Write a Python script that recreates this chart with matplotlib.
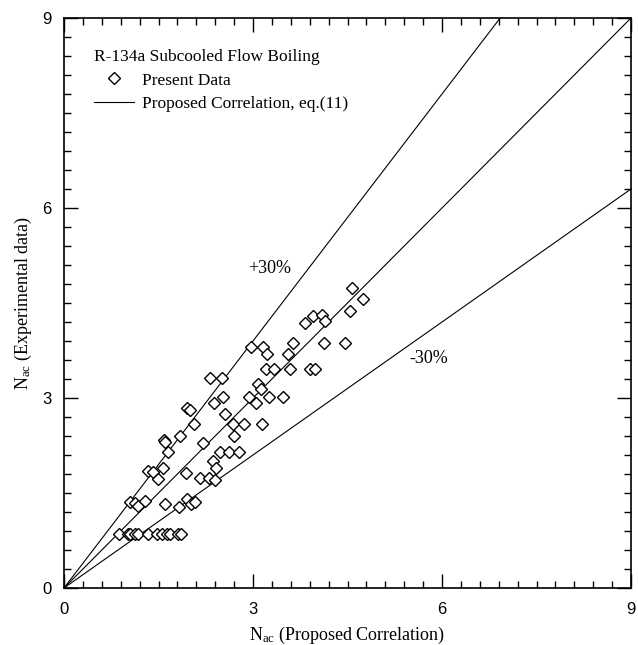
import numpy as np
import matplotlib
matplotlib.use('Agg')
import matplotlib.pyplot as plt
from matplotlib.ticker import MultipleLocator

plt.rcParams['font.family'] = ['Liberation Serif', 'DejaVu Serif']
plt.rcParams['mathtext.fontset'] = 'custom'
plt.rcParams['mathtext.rm'] = 'Liberation Serif'
plt.rcParams['mathtext.it'] = 'Liberation Serif:italic'

# N_ac predicted (x) vs experimental (y)
x_pred = [0.88, 1.01, 1.05, 1.12, 1.17, 1.34, 1.47, 1.55, 1.63, 1.69, 1.81, 1.85,
          1.04, 1.12, 1.18, 1.29, 1.61, 1.82, 1.96, 2.01, 2.08,
          1.34, 1.42, 1.49, 1.57, 1.65, 1.93, 2.16, 2.30, 2.40, 2.36, 2.41,
          2.48, 2.62, 2.78, 2.20, 1.58, 1.61, 1.84, 1.95, 2.00, 2.06,
          2.38, 2.52, 2.56, 2.68, 2.86, 2.70, 2.94, 3.15, 3.04, 3.08, 3.12,
          3.26, 3.48, 2.32, 2.51, 2.97, 3.16, 3.23, 3.21, 3.34, 3.55, 3.64,
          3.59, 3.82, 3.95, 4.09, 4.15, 3.91, 3.99, 4.12, 4.46, 4.54, 4.57, 4.74]
y_exp = [0.85, 0.85, 0.85, 0.85, 0.85, 0.85, 0.85, 0.85, 0.85, 0.85, 0.85, 0.85,
         1.36, 1.34, 1.30, 1.37, 1.33, 1.28, 1.41, 1.33, 1.36,
         1.85, 1.83, 1.72, 1.90, 2.15, 1.82, 1.74, 1.74, 1.71, 2.01, 1.90,
         2.15, 2.15, 2.15, 2.29, 2.34, 2.31, 2.40, 2.84, 2.81, 2.59,
         2.92, 3.02, 2.75, 2.59, 2.59, 2.40, 3.02, 2.59, 2.92, 3.22, 3.14,
         3.02, 3.02, 3.32, 3.32, 3.81, 3.81, 3.70, 3.46, 3.46, 3.70, 3.87,
         3.46, 4.19, 4.30, 4.31, 4.22, 3.46, 3.46, 3.87, 3.87, 4.38, 4.74, 4.57]

ratios = [1.0, 1.3, 0.7]   # correlation and +/-30% bands
x_line = np.array([0.0, 9.0])

fig = plt.figure(figsize=(6.38, 6.45), dpi=100)
ax = fig.add_axes([64 / 638, 57 / 645, 567 / 638, 570 / 645])

ax.plot(x_pred, y_exp, linestyle='none', marker='D', markersize=5.8,
        markerfacecolor='white', markeredgecolor='black', markeredgewidth=1.0,
        label='Present Data', zorder=3)
for r in ratios:
    ax.plot(x_line, r * x_line, color='black', linewidth=0.8,
            label='Proposed Correlation, eq.(11)' if r == 1.0 else None)

ax.text(2.93, 5.05, '+30%', fontsize=13, va='center')
ax.text(5.48, 3.63, '-30%', fontsize=13, va='center')

ax.set_xlim(0, 9)
ax.set_ylim(0, 9)
ax.xaxis.set_major_locator(MultipleLocator(3))
ax.yaxis.set_major_locator(MultipleLocator(3))
ax.xaxis.set_minor_locator(MultipleLocator(0.3))
ax.yaxis.set_minor_locator(MultipleLocator(0.3))
ax.tick_params(which='both', direction='in', top=True, right=True, width=1)
ax.tick_params(which='major', length=10, labelsize=12)
ax.tick_params(which='minor', length=5)
ax.tick_params(axis='x', which='major', pad=10)
ax.tick_params(axis='y', which='major', pad=9)
for lab in ax.get_xticklabels() + ax.get_yticklabels():
    lab.set_family('Liberation Sans')
for s in ax.spines.values():
    s.set_linewidth(1.2)

ax.set_xlabel(r'N$_{\mathrm{ac}}$ (Proposed Correlation)', fontsize=13, labelpad=6)
ax.set_ylabel(r'N$_{\mathrm{ac}}$ (Experimental data)', fontsize=13, labelpad=6)

leg = ax.legend(title='R-134a Subcooled Flow Boiling', loc='upper left',
                bbox_to_anchor=(0.04, 0.957), frameon=False, fontsize=12.5,
                title_fontsize=12.5, alignment='left', handlelength=2.3,
                handletextpad=0.5, labelspacing=0.4, borderaxespad=0)

fig.savefig('out.png', dpi=100)
